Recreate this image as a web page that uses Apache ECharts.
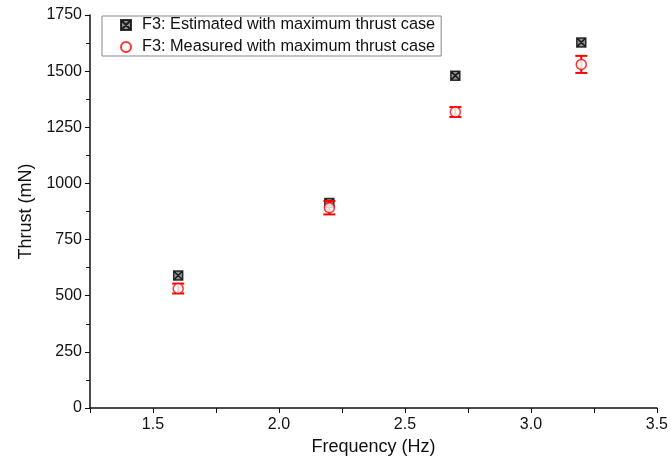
<!DOCTYPE html>
<html>
<head>
<meta charset="utf-8">
<script src="https://cdn.jsdelivr.net/npm/echarts@6/dist/echarts.min.js"></script>
<style>
  html, body { margin: 0; padding: 0; background: #fff; }
  #chart { width: 671px; height: 466px; }
</style>
</head>
<body>
<div id="chart"></div>
<script>
const frequency = [1.6, 2.2, 2.7, 3.2];
const estimated = [590, 913, 1480, 1628];
const measured = [532, 892, 1318, 1530];
const measuredErr = [22, 30, 22, 38];

const xTicks = [1.5, 2.0, 2.5, 3.0, 3.5];

const squareX = "path://M0,0L10,0L10,10L0,10Z M0,0L10,10 M10,0L0,10";

const chart = echarts.init(document.getElementById("chart"));

const estData = frequency.map((f, i) => [f, estimated[i]]);
const measData = frequency.map((f, i) => [f, measured[i]]);
const errData = frequency.map((f, i) => [f, measured[i] - measuredErr[i], measured[i] + measuredErr[i]]);

const font = "Liberation Sans, Arial, sans-serif";

chart.setOption({
  animation: false,
  backgroundColor: "#fff",
  textStyle: { fontFamily: font },
  grid: { left: 90, right: 14, top: 15, bottom: 58 },
  legend: {
    orient: "vertical",
    left: 102,
    top: 16,
    data: ["F3: Estimated with maximum thrust case", "F3: Measured with maximum thrust case"],
    itemWidth: 10,
    itemHeight: 10,
    itemGap: 6,
    padding: [1, 6, 1, 18],
    borderColor: "#888",
    borderWidth: 1,
    textStyle: { fontSize: 16.3, color: "#111", fontFamily: font, padding: [0, 0, 0, 6] }
  },
  xAxis: {
    type: "value",
    min: 1.25,
    max: 3.5,
    interval: 0.25,
    name: "Frequency (Hz)",
    nameLocation: "middle",
    nameGap: 30,
    nameTextStyle: { fontSize: 18, color: "#111" },
    axisLine: { lineStyle: { color: "#111", width: 1.5 } },
    axisTick: { show: true, length: 5, inside: false, lineStyle: { color: "#111" } },
    axisLabel: {
      fontSize: 16,
      color: "#111",
      margin: 9,
      formatter: v => xTicks.some(t => Math.abs(t - v) < 1e-6) ? v.toFixed(1) : ""
    },
    splitLine: { show: false }
  },
  yAxis: {
    type: "value",
    min: 0,
    max: 1750,
    interval: 250,
    name: "Thrust (mN)",
    nameLocation: "middle",
    nameGap: 50,
    nameTextStyle: { fontSize: 18, color: "#111" },
    axisLine: { show: true, lineStyle: { color: "#111", width: 1.5 } },
    axisTick: { show: true, length: 5, lineStyle: { color: "#111" } },
    minorTick: { show: true, splitNumber: 2, length: 4, lineStyle: { color: "#111" } },
    axisLabel: { fontSize: 16, color: "#111", margin: 8, formatter: v => String(v) },
    splitLine: { show: false }
  },
  series: [
    {
      name: "F3: Estimated with maximum thrust case",
      type: "scatter",
      symbol: squareX,
      symbolSize: 9,
      itemStyle: { color: "#777", borderColor: "#000", borderWidth: 1.5 },
      data: estData,
      z: 2
    },
    {
      name: "errorbars",
      type: "custom",
      renderItem: (params, api) => {
        const x = api.value(0);
        const lo = api.coord([x, api.value(1)]);
        const hi = api.coord([x, api.value(2)]);
        const cap = 6;
        const style = { stroke: "#f00", lineWidth: 2 };
        return {
          type: "group",
          children: [
            { type: "line", shape: { x1: lo[0], y1: lo[1], x2: hi[0], y2: hi[1] }, style },
            { type: "line", shape: { x1: lo[0] - cap, y1: lo[1], x2: lo[0] + cap, y2: lo[1] }, style },
            { type: "line", shape: { x1: hi[0] - cap, y1: hi[1], x2: hi[0] + cap, y2: hi[1] }, style }
          ]
        };
      },
      encode: { x: 0, y: [1, 2] },
      data: errData,
      z: 3
    },
    {
      name: "F3: Measured with maximum thrust case",
      type: "scatter",
      symbol: "circle",
      symbolSize: 10,
      itemStyle: { color: "#fff", borderColor: "#f00", borderWidth: 1.5 },
      data: measData,
      z: 4
    }
  ]
});
</script>
</body>
</html>
